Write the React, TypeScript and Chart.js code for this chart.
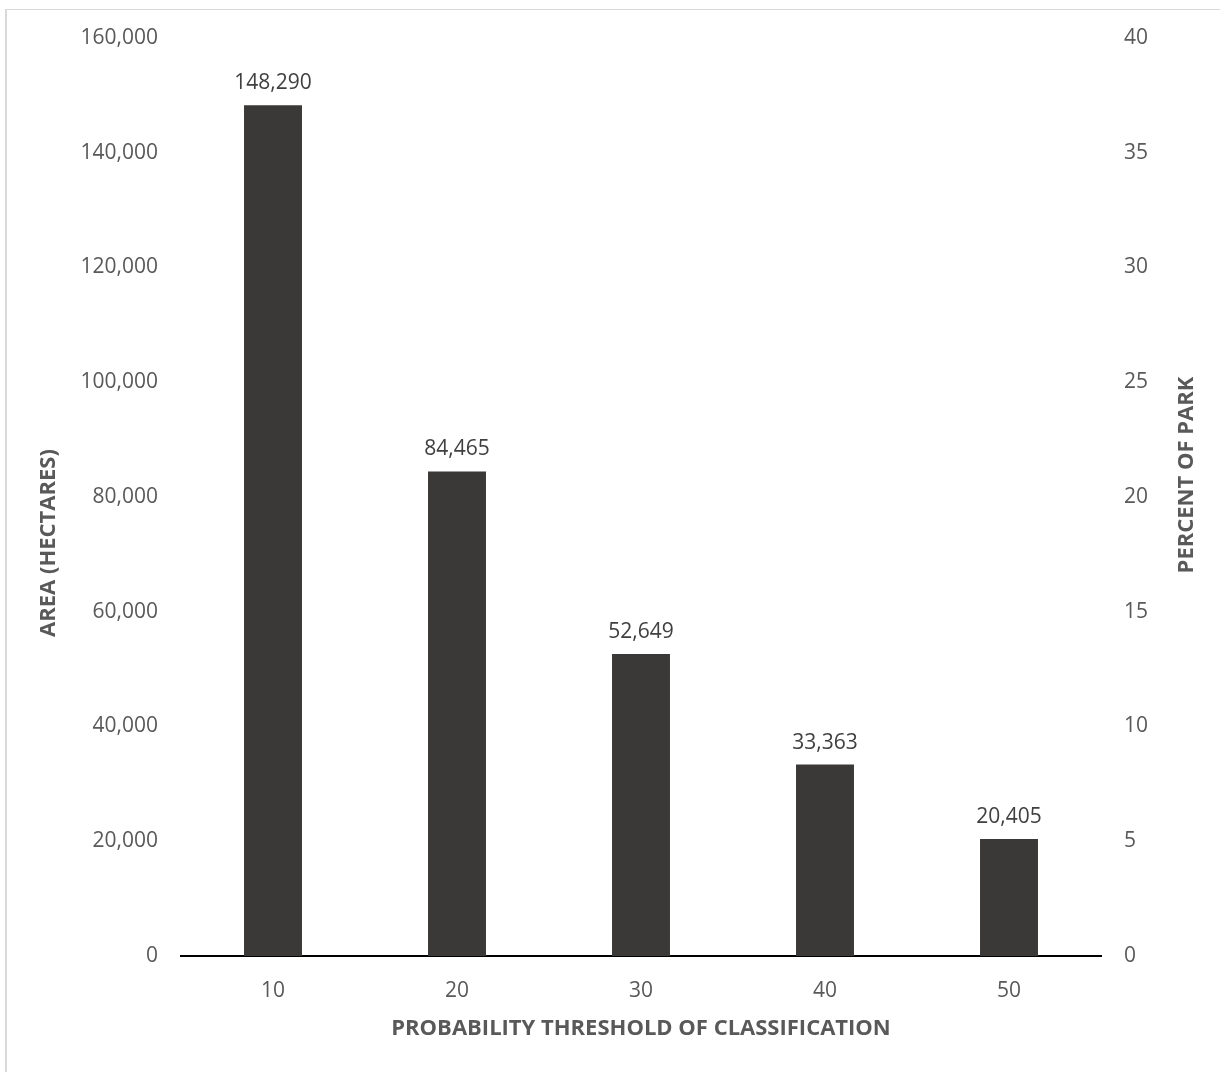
import React, { useEffect, useRef } from "react";
import { Chart, registerables } from "chart.js";

Chart.register(...registerables);

const categories = ["10", "20", "30", "40", "50"];
const areaHectares = [148290, 84465, 52649, 33363, 20405];
const leftTicks = [0, 20000, 40000, 60000, 80000, 100000, 120000, 140000, 160000];
const rightTicks = [0, 5, 10, 15, 20, 25, 30, 35, 40];
const xTitle = "PROBABILITY THRESHOLD OF CLASSIFICATION";
const yTitle = "AREA (HECTARES)";
const y1Title = "PERCENT OF PARK";

const W = 1220;
const H = 1072;
const FONT = "'Open Sans', sans-serif";
const AXIS_Y = 956;

const dataLabels = {
  id: "dataLabels",
  afterDatasetsDraw(chart: any) {
    const ctx = chart.ctx;
    const meta = chart.getDatasetMeta(0);
    ctx.save();
    ctx.font = `21px ${FONT}`;
    ctx.fillStyle = "#404040";
    ctx.textAlign = "center";
    ctx.textBaseline = "alphabetic";
    meta.data.forEach((el: any, i: number) => {
      const v = chart.data.datasets[0].data[i] as number;
      ctx.fillText(v.toLocaleString("en-US"), el.x, el.y - 16);
    });
    ctx.restore();
  },
};

const verticalTitles = {
  id: "verticalTitles",
  afterDraw(chart: any) {
    const ctx = chart.ctx;
    ctx.save();
    ctx.font = `bold 22px ${FONT}`;
    ctx.fillStyle = "#595959";
    ctx.textAlign = "center";
    ctx.textBaseline = "middle";
    const draw = (text: string, x: number, y: number) => {
      ctx.save();
      ctx.translate(x, y);
      ctx.rotate(-Math.PI / 2);
      ctx.fillText(text, 0, 0);
      ctx.restore();
    };
    draw(yTitle, 49, 543);
    draw(y1Title, 1187, 475);
    ctx.restore();
  },
};

export default function App() {
  const ref = useRef<HTMLCanvasElement | null>(null);
  useEffect(() => {
    if (!ref.current) return;
    const chart = new Chart(ref.current, {
      type: "bar",
      data: {
        labels: categories,
        datasets: [
          {
            label: "Area (hectares)",
            data: areaHectares,
            backgroundColor: "#3a3937",
            borderWidth: 0,
            barPercentage: 0.315,
            categoryPercentage: 1,
            yAxisID: "y",
          },
        ],
      },
      options: {
        responsive: false,
        animation: false,
        devicePixelRatio: 1,
        layout: { padding: { top: 38, left: 0, right: 0, bottom: 0 } },
        plugins: {
          legend: { display: false },
          tooltip: { enabled: false },
        },
        scales: {
          x: {
            position: "bottom",
            grid: { display: false, drawTicks: false },
            border: { display: true, color: "#000000", width: 2 },
            ticks: {
              color: "#595959",
              font: { family: FONT, size: 21 },
              padding: 22,
            },
            title: {
              display: true,
              text: xTitle,
              color: "#595959",
              font: { family: FONT, size: 22, weight: "bold" },
              padding: { top: 0, bottom: 30 },
            },
            afterFit(scale: any) {
              scale.height = H - AXIS_Y;
            },
          },
          y: {
            position: "left",
            min: 0,
            max: 160000,
            afterBuildTicks(scale: any) {
              scale.ticks = leftTicks.map((v) => ({ value: v }));
            },
            grid: { display: false, drawTicks: false },
            border: { display: false },
            ticks: {
              color: "#595959",
              font: { family: FONT, size: 21 },
              padding: 23,
              callback: (v: any) => Number(v).toLocaleString("en-US"),
            },
            afterFit(scale: any) {
              scale.width = 181;
            },
          },
          y1: {
            position: "right",
            min: 0,
            max: 40,
            afterBuildTicks(scale: any) {
              scale.ticks = rightTicks.map((v) => ({ value: v }));
            },
            grid: { display: false, drawTicks: false },
            border: { display: false },
            ticks: {
              color: "#595959",
              font: { family: FONT, size: 21 },
              padding: 23,
            },
            afterFit(scale: any) {
              scale.width = W - 1101;
            },
          },
        },
      },
      plugins: [dataLabels, verticalTitles],
    });
    return () => chart.destroy();
  }, []);

  return (
    <>
      <div
        style={{
          position: "absolute",
          left: 5,
          top: 9,
          width: W - 5,
          height: H - 9,
          borderLeft: "2px solid #d9d9d9",
          borderTop: "1px solid #d9d9d9",
          boxSizing: "border-box",
        }}
      />
      <canvas
        ref={ref}
        width={W}
        height={H}
        style={{ position: "absolute", left: 0, top: 0, width: W, height: H }}
      />
    </>
  );
}
